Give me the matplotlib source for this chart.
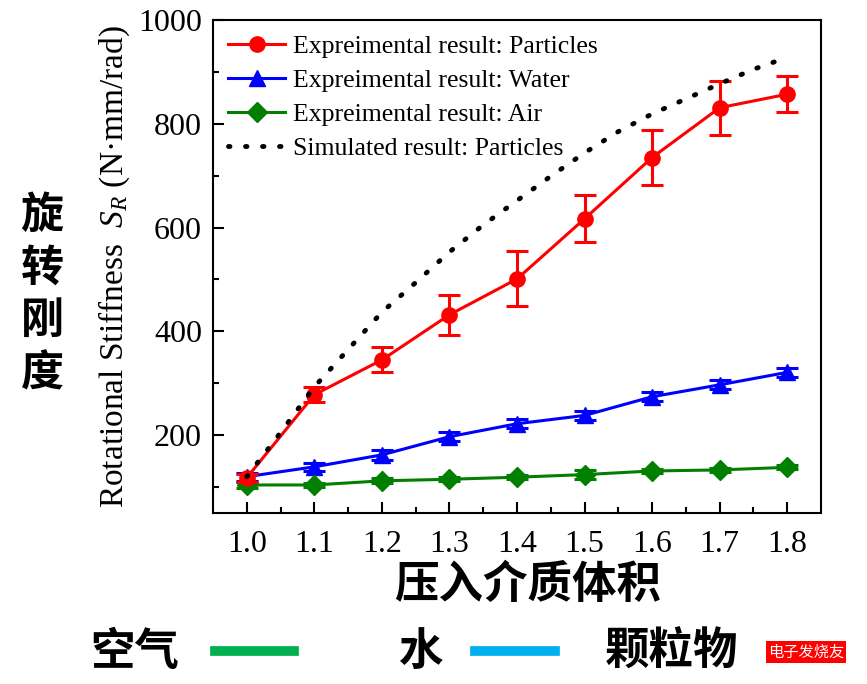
import matplotlib
matplotlib.use("Agg")
from matplotlib import pyplot as plt
from matplotlib.lines import Line2D
import numpy as np

plt.rcParams['font.family'] = ['Liberation Serif', 'DejaVu Serif']
plt.rcParams['mathtext.fontset'] = 'custom'
plt.rcParams['mathtext.rm'] = 'Liberation Serif'
plt.rcParams['mathtext.it'] = 'Liberation Serif:italic'

# volume ratio of injected medium
x = [1.0, 1.1, 1.2, 1.3, 1.4, 1.5, 1.6, 1.7, 1.8]

particles = [118, 278, 345, 432, 501, 617, 735, 831, 857]
particles_err = [8, 14, 24, 39, 53, 45, 53, 52, 35]

water = [120, 139, 162, 197, 222, 238, 274, 297, 321]
water_err = [8, 8, 9, 9, 9, 9, 9, 9, 9]

air = [104, 104, 112, 115, 119, 124, 131, 133, 138]
air_err = [6, 4, 5, 4, 4, 8, 4, 4, 4]

sim_x = [1.0, 1.05, 1.1, 1.15, 1.2, 1.25, 1.3, 1.35, 1.4, 1.45, 1.5,
         1.55, 1.6, 1.65, 1.7, 1.75, 1.8]
sim_y = [120, 205, 293, 365, 437, 494, 553, 605, 652, 699, 744,
         785, 819, 848, 877, 905, 928]

labels = ['Expreimental result: Particles', 'Expreimental result: Water',
          'Expreimental result: Air', 'Simulated result: Particles']

fig = plt.figure(figsize=(8.67, 6.84), dpi=100)
ax = fig.add_axes([213/867, 1-513/684, (821-213)/867, (513-20)/684])

lw = 2.2
ax.errorbar(x, particles, yerr=particles_err, color='#ff0000', marker='o', ms=11,
            lw=lw, capsize=8, elinewidth=lw, capthick=lw, zorder=4)
ax.errorbar(x, water, yerr=water_err, color='#0000ff', marker='^', ms=11,
            lw=lw, capsize=8, elinewidth=lw, capthick=lw, zorder=3)
ax.errorbar(x, air, yerr=air_err, color='#007f00', marker='D', ms=10,
            lw=lw, capsize=8, elinewidth=lw, capthick=lw, zorder=3)
ax.plot(sim_x, sim_y, color='black', lw=3.5, linestyle=(0, (0.3, 3.2)),
        dash_capstyle='round', zorder=5)

handles = [Line2D([], [], color='#ff0000', marker='o', ms=11, lw=lw),
           Line2D([], [], color='#0000ff', marker='^', ms=11, lw=lw),
           Line2D([], [], color='#007f00', marker='D', ms=10, lw=lw),
           Line2D([], [], color='black', lw=3.5, linestyle=(0, (0.3, 3.2)),
                  dash_capstyle='round')]
ax.legend(handles, labels, loc='upper left', frameon=False, fontsize=18.5,
          handlelength=2.2, handletextpad=0.3, labelspacing=0.42,
          borderaxespad=0.2, bbox_to_anchor=(0.0, 1.0))

ax.set_xlim(0.95, 1.85)
ax.set_ylim(50, 1000)
ax.set_xticks(x)
ax.set_xticklabels(['%.1f' % v for v in x])
ax.set_xticks(np.arange(1.05, 1.80, 0.1), minor=True)
ax.set_yticks([200, 400, 600, 800, 1000])
ax.set_yticks([100, 300, 500, 700, 900], minor=True)
ax.tick_params(which='major', direction='in', length=8, width=1.5,
               labelsize=23, top=False, right=False, pad=8)
ax.tick_params(axis='x', which='major', pad=12)
ax.tick_params(which='minor', direction='in', length=4, width=1.5,
               top=False, right=False)
for s in ax.spines.values():
    s.set_linewidth(1.5)

ax.set_ylabel('Rotational Stiffness  $S_R$ (N·mm/rad)', fontsize=24, labelpad=4)

cjk = ['Noto Sans CJK SC', 'DejaVu Sans']
fig.text(42/867, 1-294/684, '旋\n转\n刚\n度', family=cjk, fontsize=31,
         fontweight='bold', ha='center', va='center', linespacing=1.25)
fig.text(528/867, 1-585/684, '压入介质体积', family=cjk, fontsize=32,
         fontweight='bold', ha='center', va='center')

fig.text(135/867, 1-652/684, '空气', family=cjk, fontsize=32,
         fontweight='bold', ha='center', va='center')
fig.text(420/867, 1-652/684, '水', family=cjk, fontsize=32,
         fontweight='bold', ha='center', va='center')
fig.text(672/867, 1-652/684, '颗粒物', family=cjk, fontsize=32,
         fontweight='bold', ha='center', va='center')
fig.add_artist(Line2D([215/867, 294/867], [1-651/684, 1-651/684],
                      color='#00b050', lw=7))
fig.add_artist(Line2D([475/867, 555/867], [1-651/684, 1-651/684],
                      color='#00b0f0', lw=7))
fig.text(806/867, 1-652/684, '电子发烧友', family=cjk, fontsize=11,
         color='white', ha='center', va='center',
         bbox=dict(facecolor='#ff0000', edgecolor='none', pad=1.5))

fig.savefig('out.png', dpi=100)
